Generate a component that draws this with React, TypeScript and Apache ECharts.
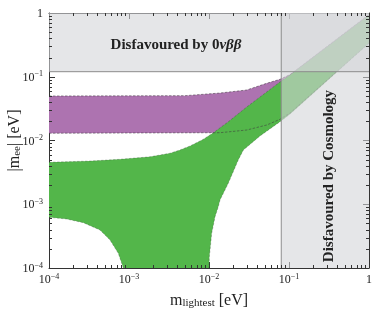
import React, { useEffect, useRef } from 'react';
import * as echarts from 'echarts';

// Axis ranges and ticks
const X_RANGE = [1e-4, 1];
const Y_RANGE = [1e-4, 1];
const majorTicks = [1e-4, 1e-3, 1e-2, 1e-1, 1];
const decadeStarts = [1e-4, 1e-3, 1e-2, 1e-1];
const minorMultipliers = [2, 3, 4, 5, 6, 7, 8, 9];

// Exclusion bounds
const cosmologyBound = 0.08; // m_lightest [eV]
const zeroNuBBBound = 0.12; // |m_ee| [eV]

// Normal hierarchy (green): upper edge, left to right
const nhUpper: number[][] = [
  [1e-4, 0.00455], [3.26e-4, 0.00476], [7.72e-4, 0.00507], [1.83e-3, 0.00555],
  [3.26e-3, 0.00631], [4.34e-3, 0.0071], [5.79e-3, 0.0082], [8.41e-3, 0.01037],
  [0.01122, 0.01312], [0.01728, 0.0195], [0.0296, 0.0335], [0.0526, 0.0577],
  [0.0772, 0.0828], [0.103, 0.1066], [1, 0.93],
];
// Normal hierarchy: lower edge, right branch, from m=1 down to the cancellation
const nhLowerRight: number[][] = [
  [1, 0.335], [0.103, 0.026], [0.0772, 0.0197], [0.0434, 0.0118], [0.0269, 0.0071],
  [0.0232, 0.00494], [0.0174, 0.00213], [0.01373, 0.00117], [0.01306, 9.15e-4],
  [0.0119, 6.38e-4], [0.0108, 3.5e-4], [0.0105, 2.44e-4], [0.0101, 1.5e-4], [0.01, 1e-4],
];
// Normal hierarchy: lower edge, left branch, from the cancellation back to m=1e-4
const nhLowerLeft: number[][] = [
  [8.5e-4, 1e-4], [7.35e-4, 1.7e-4], [5.79e-4, 2.75e-4], [4.34e-4, 3.95e-4],
  [2.69e-4, 5.14e-4], [1.66e-4, 5.87e-4], [1e-4, 6.24e-4],
];

// Inverted hierarchy (purple)
const ihUpper: number[][] = [
  [1e-4, 0.0499], [0.005, 0.0505], [0.0137, 0.0555], [0.0296, 0.062],
  [0.0526, 0.0789], [0.0772, 0.0912], [0.103, 0.108], [1, 0.95],
];
const ihLower: number[][] = [
  [1e-4, 0.013], [0.0137, 0.01325], [0.0296, 0.0146], [0.0526, 0.0175],
  [0.0772, 0.0215], [0.103, 0.027], [1, 0.34],
];

const PURPLE = '#ad73b0';
const GREEN = '#53b64a';
const AXIS = '#333';
const SERIF = '"Liberation Serif", "DejaVu Serif", serif';

const minorTicks: number[] = [];
decadeStarts.forEach((d) => minorMultipliers.forEach((k) => minorTicks.push(+(k * d).toPrecision(3))));

function expLabel(v: number) {
  const e = Math.round(Math.log10(v));
  if (e === 0) return '1';
  return `10{sup|\u2212${-e}}`;
}

const labelRich = {
  sup: { fontSize: 8, lineHeight: 8, verticalAlign: 'top', fontFamily: SERIF, color: '#222' },
};

function polygonSeries(points: number[][], fill: string, z: number) {
  return {
    type: 'custom',
    coordinateSystem: 'cartesian2d',
    data: [points[0]],
    silent: true,
    z,
    renderItem: (_p: any, api: any) => ({
      type: 'polygon',
      shape: { points: points.map((p) => api.coord(p)) },
      style: { fill, stroke: 'none' },
    }),
  };
}

function lineSeries(points: number[][], color: string, width: number, dash: number[] | null, z: number) {
  return {
    type: 'custom',
    coordinateSystem: 'cartesian2d',
    data: [points[0]],
    silent: true,
    z,
    renderItem: (_p: any, api: any) => ({
      type: 'polyline',
      shape: { points: points.map((p) => api.coord(p)) },
      style: { fill: null, stroke: color, lineWidth: width, lineDash: dash || undefined },
    }),
  };
}

// Minor tick marks: one polyline per tick, placed with the axes' scales, offset inward in pixels
function minorTickSeries(side: 'bottom' | 'top' | 'left' | 'right', len: number) {
  return minorTicks.map((v) => {
    const anchor =
      side === 'bottom' ? [v, Y_RANGE[0]] : side === 'top' ? [v, Y_RANGE[1]] : side === 'left' ? [X_RANGE[0], v] : [X_RANGE[1], v];
    return {
      type: 'custom',
      coordinateSystem: 'cartesian2d',
      data: [anchor],
      silent: true,
      z: 6,
      renderItem: (_p: any, api: any) => {
        const c = api.coord(anchor);
        let pts;
        if (side === 'bottom' || side === 'top') {
          const x = Math.round(c[0]) + 0.5;
          pts = [[x, c[1]], [x, side === 'bottom' ? c[1] - len : c[1] + len]];
        } else {
          const y = Math.round(c[1]) + 0.5;
          pts = [[c[0], y], [side === 'left' ? c[0] + len : c[0] - len, y]];
        }
        return { type: 'polyline', shape: { points: pts }, style: { fill: null, stroke: AXIS, lineWidth: 1 } };
      },
    };
  });
}

function axisDef(kind: 'x' | 'y', position: string, labels: boolean) {
  const range = kind === 'x' ? X_RANGE : Y_RANGE;
  return {
    type: 'log',
    logBase: 10,
    min: range[0],
    max: range[1],
    position,
    gridIndex: 0,
    axisLine: { show: true, onZero: false, lineStyle: { color: AXIS, width: 1 } },
    axisTick: { show: true, inside: true, length: 6, lineStyle: { color: AXIS, width: 1 } },
    axisLabel: {
      show: labels,
      formatter: expLabel,
      fontFamily: SERIF,
      fontSize: 12,
      lineHeight: 14,
      color: '#222',
      margin: kind === 'x' ? 4 : 6,
      rich: labelRich,
    },
    splitLine: { show: false },
    minorTick: { show: false },
    minorSplitLine: { show: false },
  };
}

export default function App() {
  const ref = useRef<HTMLDivElement>(null);
  useEffect(() => {
    if (!ref.current) return;
    const chart = echarts.init(ref.current, undefined, { renderer: 'svg' });

    const nameStyle = {
      fontFamily: SERIF, fontSize: 16, color: '#222',
      rich: { sub: { fontSize: 11, verticalAlign: 'bottom', lineHeight: 14, fontFamily: SERIF, color: '#222' } },
    };
    const xMain: any = axisDef('x', 'bottom', true);
    xMain.name = 'm{sub|lightest} [eV]';
    xMain.nameLocation = 'middle';
    xMain.nameGap = 23;
    xMain.nameMoveOverlap = false;
    xMain.nameTextStyle = nameStyle;
    const yMain: any = axisDef('y', 'left', true);
    yMain.name = '|m{sub|ee}| [eV]';
    yMain.nameLocation = 'middle';
    yMain.nameGap = 28;
    yMain.nameRotate = 90;
    yMain.nameMoveOverlap = false;
    yMain.nameTextStyle = nameStyle;

    const overlays = [
      { x0: X_RANGE[0], x1: X_RANGE[1], y0: zeroNuBBBound, y1: Y_RANGE[1] },
      { x0: cosmologyBound, x1: X_RANGE[1], y0: Y_RANGE[0], y1: Y_RANGE[1] },
    ];

    chart.setOption({
      animation: false,
      grid: { left: 49, top: 13, right: 5, bottom: 44, containLabel: false, outerBoundsMode: 'none' },
      xAxis: [xMain, axisDef('x', 'top', false)],
      yAxis: [yMain, axisDef('y', 'right', false)],
      series: [
        polygonSeries([...ihUpper, ...[...ihLower].reverse()], PURPLE, 1),
        polygonSeries([...nhUpper, ...nhLowerRight, ...nhLowerLeft], GREEN, 2),
        lineSeries(ihUpper, 'rgba(60,50,60,0.75)', 0.7, [2.5, 1.5], 3),
        lineSeries(ihLower, 'rgba(60,50,60,0.75)', 0.7, [2.5, 1.5], 3),
        lineSeries(nhUpper, 'rgba(40,60,40,0.5)', 0.6, [2.5, 1.5], 3),
        lineSeries(nhLowerRight, 'rgba(40,60,40,0.5)', 0.6, [2.5, 1.5], 3),
        lineSeries(nhLowerLeft, 'rgba(40,60,40,0.5)', 0.6, [2.5, 1.5], 3),
        {
          type: 'custom',
          coordinateSystem: 'cartesian2d',
          data: overlays.map((o) => [o.x0, o.y0, o.x1, o.y1]),
          silent: true,
          z: 4,
          renderItem: (_p: any, api: any) => {
            const a = api.coord([api.value(0), api.value(1)]);
            const b = api.coord([api.value(2), api.value(3)]);
            return {
              type: 'rect',
              shape: { x: a[0], y: b[1], width: b[0] - a[0], height: a[1] - b[1] },
              style: { fill: 'rgba(212,213,216,0.6)' },
            };
          },
        },
        lineSeries([[X_RANGE[0], zeroNuBBBound], [X_RANGE[1], zeroNuBBBound]], '#8c8c8c', 1, null, 5),
        lineSeries([[cosmologyBound, Y_RANGE[0]], [cosmologyBound, Y_RANGE[1]]], '#8c8c8c', 1, null, 5),
        ...minorTickSeries('bottom', 3),
        ...minorTickSeries('top', 3),
        ...minorTickSeries('left', 3),
        ...minorTickSeries('right', 3),
      ],
      graphic: [
        {
          type: 'text',
          x: 176,
          y: 44,
          z: 10,
          style: {
            text: 'Disfavoured by 0{i|\u03bd\u03b2\u03b2}',
            fontFamily: SERIF,
            fontWeight: 'bold',
            fontSize: 15,
            fill: '#222',
            align: 'center',
            verticalAlign: 'middle',
            rich: { i: { fontFamily: SERIF, fontWeight: 'bold', fontStyle: 'italic', fontSize: 15, color: '#222' } },
          },
        },
        {
          type: 'text',
          x: 328,
          y: 176,
          z: 10,
          rotation: Math.PI / 2,
          style: {
            text: 'Disfavoured by Cosmology',
            fontFamily: SERIF,
            fontWeight: 'bold',
            fontSize: 15,
            fill: '#222',
            align: 'center',
            verticalAlign: 'middle',
          },
        },
      ],
    });
    return () => chart.dispose();
  }, []);
  return <div ref={ref} style={{ position: 'fixed', left: 0, top: 0, width: 374, height: 312 }} />;
}
